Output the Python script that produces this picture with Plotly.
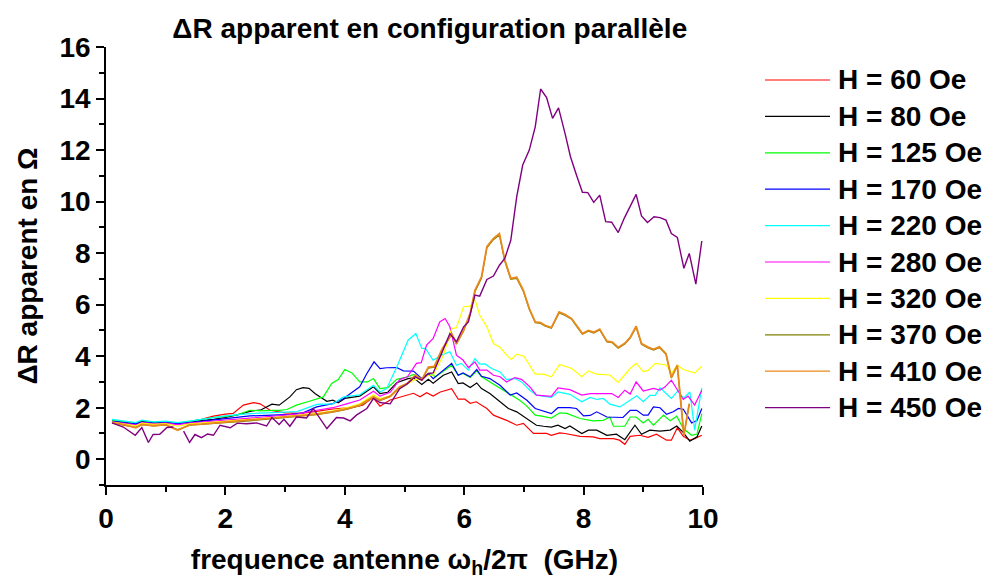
import plotly.graph_objects as go

# ---------------- data ----------------
x_base = [0.1, 0.3, 0.5, 0.6, 0.8, 1.0, 1.2, 1.4, 1.6, 1.8, 2.0]

x_60 = x_base + [2.13, 2.3, 2.47, 2.58, 2.75, 3.0, 3.25, 3.5, 3.8, 4.1, 4.3, 4.47, 4.59, 4.76, 4.87,
                 5.04, 5.15, 5.26, 5.37, 5.48, 5.6, 5.79, 5.9, 6.01, 6.1, 6.2, 6.38, 6.49, 6.71, 6.88,
                 6.99, 7.16, 7.38, 7.46, 7.6, 7.69, 7.94, 8.16, 8.27, 8.5, 8.6, 8.69, 8.78, 8.94, 9.08,
                 9.22, 9.39, 9.47, 9.57, 9.67, 9.78, 9.86, 9.98]
y_60 = [1.45, 1.42, 1.36, 1.44, 1.40, 1.42, 1.40, 1.45, 1.55, 1.67, 1.75,
        1.78, 2.1, 2.2, 2.15, 1.9, 1.8, 1.78, 1.85, 1.95, 2.0, 2.1, 2.4, 2.06, 2.3, 2.38,
        2.49, 2.56, 2.42, 2.58, 2.45, 2.61, 2.74, 2.33, 2.33, 2.17, 2.23, 1.97, 1.71, 1.51, 1.32,
        1.39, 1.0, 1.0, 0.93, 1.02, 1.0, 0.89, 0.87, 0.8, 0.8, 0.74, 0.58, 0.89, 0.93, 0.85,
        0.97, 0.74, 0.74, 1.22, 0.89, 0.74, 0.8, 0.93]

x_80 = x_base + [2.2, 2.41, 2.6, 2.78, 2.9, 3.08, 3.19, 3.3, 3.4, 3.5, 3.6, 3.7, 3.8, 3.89, 4.0,
                 4.25, 4.48, 4.59, 4.72, 4.87, 5.06, 5.15, 5.29, 5.4, 5.48, 5.65, 5.79, 5.9, 5.98, 6.1,
                 6.21, 6.29, 6.43, 6.6, 6.74, 6.88, 7.05, 7.21, 7.33, 7.46, 7.57, 7.69, 7.77, 7.97, 8.08,
                 8.22, 8.39, 8.55, 8.69, 8.86, 8.97, 9.11, 9.28, 9.45, 9.56, 9.66, 9.78, 9.9, 9.98]
y_80 = [1.48, 1.44, 1.35, 1.47, 1.42, 1.44, 1.38, 1.45, 1.50, 1.55, 1.62,
        1.72, 1.86, 1.92, 2.14, 2.1, 2.42, 2.7, 2.78, 2.75, 2.55, 2.4, 2.25, 2.29, 2.19, 2.36,
        2.45, 2.81, 2.55, 2.6, 2.97, 3.13, 3.16, 2.9, 3.1, 2.95, 3.26, 3.39, 2.94, 2.96, 2.78,
        2.96, 2.74, 2.55, 2.23, 1.97, 1.84, 1.58, 1.32, 1.28, 1.25, 1.32, 1.19, 1.29, 1.0, 1.13,
        1.13, 0.93, 0.97, 0.76, 1.32, 0.97, 1.13, 1.09, 1.13, 1.29, 1.06, 0.7, 0.87, 1.29]

x_125 = x_base + [2.2, 2.41, 2.6, 2.8, 2.91, 3.03, 3.19, 3.42, 3.64, 3.78, 3.89, 4.0, 4.12, 4.25, 4.38,
                  4.48, 4.59, 4.72, 4.87, 5.06, 5.15, 5.29, 5.43, 5.52, 5.79, 5.9, 5.98, 6.1, 6.21, 6.29,
                  6.43, 6.6, 6.77, 6.93, 7.05, 7.19, 7.3, 7.46, 7.6, 7.72, 7.94, 8.16, 8.33, 8.44, 8.5,
                  8.69, 8.78, 8.88, 9.0, 9.08, 9.17, 9.34, 9.45, 9.56, 9.67, 9.81, 9.9, 9.98]
y_125 = [1.52, 1.47, 1.40, 1.50, 1.44, 1.46, 1.40, 1.47, 1.55, 1.62, 1.66,
         1.72, 1.9, 1.88, 1.9, 1.9, 1.93, 2.1, 2.26, 2.42, 2.94, 3.09, 3.48, 3.35, 3.0, 3.0,
         3.13, 2.74, 2.78, 3.1, 3.2, 3.29, 3.13, 3.33, 3.2, 3.65, 3.26, 3.33, 3.17, 3.43, 3.2,
         3.0, 2.74, 2.49, 2.29, 2.06, 1.71, 1.67, 1.6, 1.8, 1.78, 1.58, 1.49, 1.51, 1.64, 1.28,
         1.28, 1.64, 1.64, 1.41, 1.55, 1.32, 1.71, 1.49, 1.67, 1.19, 0.93, 0.98, 1.77]

x_170 = x_base + [2.41, 2.8, 3.1, 3.3, 3.53, 3.8, 3.98, 4.25, 4.37, 4.49, 4.59, 4.7, 4.87, 4.98, 5.15,
                  5.29, 5.4, 5.48, 5.65, 5.79, 5.9, 5.98, 6.1, 6.21, 6.29, 6.43, 6.6, 6.77, 6.88, 7.05,
                  7.19, 7.33, 7.46, 7.57, 7.77, 7.88, 8.0, 8.11, 8.22, 8.39, 8.55, 8.66, 8.78, 8.89, 9.0,
                  9.08, 9.17, 9.28, 9.39, 9.5, 9.59, 9.67, 9.81, 9.9, 9.98]
y_170 = [1.47, 1.43, 1.37, 1.45, 1.40, 1.42, 1.38, 1.42, 1.48, 1.53, 1.58,
         1.68, 1.72, 1.74, 1.8, 2.03, 2.16, 2.36, 2.81, 3.33, 3.78, 3.52, 3.55, 3.56, 3.43, 3.42,
         3.13, 3.33, 3.13, 3.46, 3.72, 3.26, 3.35, 3.2, 3.48, 3.22, 3.13, 2.87, 2.49, 2.57, 2.29,
         1.97, 1.88, 1.77, 2.0, 2.0, 1.97, 1.68, 1.7, 1.84, 1.64, 1.62, 1.62, 1.9, 1.9, 1.71,
         1.71, 2.03, 2.0, 1.74, 1.84, 1.97, 1.94, 1.41, 1.5, 1.97]

x_220 = x_base + [2.41, 2.8, 3.2, 3.53, 3.8, 3.98, 4.25, 4.48, 4.59, 4.7, 4.87, 5.06, 5.19, 5.29, 5.35,
                  5.48, 5.62, 5.76, 5.87, 5.95, 6.07, 6.18, 6.26, 6.35, 6.46, 6.6, 6.71, 6.85, 6.96, 7.1,
                  7.21, 7.46, 7.57, 7.77, 7.97, 8.11, 8.22, 8.33, 8.44, 8.61, 8.72, 8.89, 9.0, 9.11, 9.2,
                  9.28, 9.36, 9.47, 9.59, 9.67, 9.78, 9.86, 9.98]
y_220 = [1.55, 1.48, 1.42, 1.52, 1.45, 1.48, 1.42, 1.48, 1.55, 1.62, 1.68,
         1.77, 1.8, 1.85, 2.13, 2.15, 2.42, 2.5, 2.87, 2.61, 2.74, 3.58, 4.62, 4.88, 4.3, 4.3,
         3.84, 4.04, 4.17, 3.65, 3.72, 3.46, 3.91, 3.69, 3.7, 3.52, 3.39, 3.09, 3.13, 3.0, 2.68,
         2.49, 2.4, 2.61, 2.52, 2.23, 2.4, 2.32, 2.36, 2.14, 2.03, 2.2, 2.46, 2.23, 2.48, 2.48,
         2.78, 2.6, 2.36, 2.68, 2.36, 2.61, 1.13, 2.77]

x_280 = x_base + [2.41, 2.8, 3.2, 3.53, 3.8, 4.03, 4.25, 4.48, 4.59, 4.76, 4.92, 5.05, 5.2, 5.28, 5.37,
                  5.48, 5.59, 5.68, 5.76, 5.87, 5.98, 6.07, 6.18, 6.26, 6.38, 6.49, 6.6, 6.71, 6.85, 6.96,
                  7.1, 7.21, 7.46, 7.57, 7.77, 7.97, 8.11, 8.33, 8.47, 8.58, 8.69, 8.78, 8.88, 9.0, 9.17,
                  9.28, 9.36, 9.47, 9.59, 9.67, 9.75, 9.86, 9.98]
y_280 = [1.45, 1.40, 1.33, 1.42, 1.37, 1.40, 1.34, 1.40, 1.44, 1.48, 1.53,
         1.6, 1.68, 1.75, 1.9, 2.0, 2.15, 2.3, 2.64, 2.45, 2.6, 3.09, 3.2, 3.72, 3.75, 4.43,
         4.69, 5.33, 5.46, 5.14, 4.04, 3.85, 3.56, 3.78, 3.46, 3.46, 3.26, 3.2, 3.0, 3.17, 3.1,
         2.81, 2.49, 2.44, 2.77, 2.7, 2.49, 2.55, 2.55, 2.55, 2.4, 2.68, 2.53, 3.0, 2.65, 2.75,
         2.68, 2.8, 3.07, 2.65, 2.32, 2.45, 2.1, 2.68]

x_320 = x_base + [2.41, 2.8, 3.2, 3.53, 3.8, 4.03, 4.25, 4.48, 4.59, 4.76, 4.92, 5.15, 5.29, 5.4, 5.48,
                  5.65, 5.79, 5.87, 5.99, 6.1, 6.18, 6.26, 6.38, 6.49, 6.6, 6.71, 6.79, 6.88, 7.0, 7.1,
                  7.19, 7.33, 7.46, 7.6, 7.8, 7.97, 8.08, 8.22, 8.44, 8.58, 8.78, 8.88, 9.0, 9.08, 9.2,
                  9.38, 9.47, 9.57, 9.67, 9.86, 9.98]
y_320 = [1.44, 1.38, 1.30, 1.40, 1.35, 1.38, 1.28, 1.37, 1.40, 1.44, 1.48,
         1.55, 1.62, 1.7, 1.78, 1.88, 2.0, 2.15, 2.5, 2.35, 2.45, 2.74, 3.07, 3.13, 3.26, 3.26,
         4.04, 5.07, 5.1, 5.92, 5.94, 6.2, 5.59, 5.14, 4.49, 4.35, 4.04, 3.87, 4.08, 4.0, 3.65,
         3.3, 3.3, 3.2, 3.68, 3.52, 3.2, 3.43, 3.3, 3.27, 2.98, 3.52, 3.72, 3.4, 3.45, 3.72,
         3.66, 3.33, 3.65, 3.48, 3.35, 3.61]

x_410 = x_base + [2.41, 2.8, 3.2, 3.53, 3.8, 4.03, 4.25, 4.48, 4.59, 4.76, 4.92, 5.05, 5.18, 5.29, 5.4,
                  5.5, 5.62, 5.79, 5.87, 5.99, 6.1, 6.18, 6.29, 6.38, 6.49, 6.59, 6.68, 6.78, 6.88, 6.99,
                  7.09, 7.19, 7.28, 7.35, 7.46, 7.59, 7.69, 7.8, 7.88, 7.98, 8.08, 8.17, 8.27, 8.39, 8.48,
                  8.58, 8.69, 8.78, 8.88, 8.97, 9.07, 9.17, 9.27, 9.38, 9.47, 9.57, 9.68, 9.77]
y_410 = [1.42, 1.34, 1.22, 1.35, 1.30, 1.34, 1.12, 1.33, 1.36, 1.40, 1.44,
         1.5, 1.6, 1.68, 1.75, 1.85, 1.95, 2.1, 2.42, 2.3, 2.45, 2.81, 2.95, 3.26, 3.09, 3.58,
         3.6, 4.23, 4.88, 4.49, 5.01, 5.66, 6.56, 7.08, 8.25, 8.57, 8.76, 7.73, 7.02, 7.06, 6.56,
         5.85, 5.33, 5.3, 5.2, 5.11, 5.72, 5.62, 5.46, 5.2, 4.88, 5.0, 4.93, 5.05, 4.58, 4.55,
         4.34, 4.5, 4.73, 5.16, 4.49, 4.36, 4.27, 4.36, 4.1, 3.17, 3.65, 0.93, 2.16]

x_370 = list(x_410)
y_370 = [1.40, 1.33, 1.24, 1.34, 1.29, 1.33, 1.15, 1.32, 1.35, 1.39, 1.43,
         1.49, 1.58, 1.66, 1.73, 1.83, 1.93, 2.08, 2.4, 2.28, 2.43, 2.78, 2.92, 3.22, 3.06, 3.54,
         3.57, 4.2, 4.84, 4.46, 4.98, 5.62, 6.5, 7.02, 8.2, 8.52, 8.7, 7.68, 6.98, 7.02, 6.52,
         5.82, 5.3, 5.27, 5.17, 5.08, 5.68, 5.58, 5.43, 5.17, 4.85, 4.97, 4.9, 5.02, 4.55, 4.52,
         4.31, 4.47, 4.7, 5.12, 4.46, 4.33, 4.24, 4.33, 4.07, 3.15, 3.62, 0.95, 2.13]

x_450 = [0.1, 0.29, 0.49, 0.6, 0.71, 0.79, 0.9, 1.02, 1.13, 1.2, 1.3, 1.4, 1.49, 1.6, 1.7,
         1.8, 1.91, 2.08, 2.2, 2.35, 2.52, 2.69, 2.78, 2.9, 2.98, 3.08, 3.19, 3.36, 3.47, 3.7,
         3.86, 3.98, 4.09, 4.2, 4.37, 4.48, 4.59, 4.76, 4.92, 5.03, 5.18, 5.29, 5.4, 5.48, 5.62,
         5.76, 5.87, 5.99, 6.07, 6.18, 6.26, 6.38, 6.49, 6.59, 6.68, 6.78, 6.88, 6.98, 7.09, 7.19,
         7.28, 7.38, 7.48, 7.58, 7.69, 7.78, 7.88, 7.98, 8.07, 8.17, 8.27, 8.37, 8.47, 8.58, 8.68,
         8.78, 8.88, 8.97, 9.07, 9.18, 9.28, 9.38, 9.47, 9.57, 9.68, 9.77, 9.88, 9.98]
y_450 = [1.41, 1.25, 0.93, 1.23, 0.65, 0.96, 0.97, 1.23, 1.25, None, 1.09, 0.65, 0.96, 0.84, 0.98,
         0.93, 1.32, 1.22, 1.4, 1.38, 1.41, 1.29, 1.62, 1.35, 1.55, 1.28, 1.64, 1.6, 1.97, 1.19,
         1.62, 1.6, 1.49, 1.72, 1.97, 2.36, 2.2, 2.15, 2.74, 2.9, 3.2, 3.07, 3.33, 3.35, 4.1,
         4.88, 4.56, 5.14, 5.33, 6.37, 6.33, 6.98, 7.11, 7.53, 7.79, 8.5, 10.19, 11.42, 12.0, 12.9,
         14.37, 14.04, 13.23, 13.64, 12.64, 11.74, 11.03, 10.36, 10.35, 9.97, 10.25, 9.22, 9.2, 8.8, 9.35,
         9.8, 10.28, 9.44, 9.19, 9.41, 9.38, 9.28, 8.76, 8.61, 7.41, 7.99, 6.8, 8.47]

series_names = ["H = 60 Oe", "H = 80 Oe", "H = 125 Oe", "H = 170 Oe", "H = 220 Oe",
                "H = 280 Oe", "H = 320 Oe", "H = 370 Oe", "H = 410 Oe", "H = 450 Oe"]
series_x = [x_60, x_80, x_125, x_170, x_220, x_280, x_320, x_370, x_410, x_450]
series_y = [y_60, y_80, y_125, y_170, y_220, y_280, y_320, y_370, y_410, y_450]
series_colors = ["#ff0000", "#000000", "#00ff00", "#0000ff", "#00ffff",
                 "#ff00ff", "#ffff00", "#808000", "#e8891c", "#800080"]
series_widths = [1.2, 1.2, 1.2, 1.2, 1.2, 1.2, 1.2, 1.2, 1.8, 1.4]

x_ticks = [0, 2, 4, 6, 8, 10]
y_ticks = [0, 2, 4, 6, 8, 10, 12, 14, 16]

FONT = "Liberation Sans, Arial, Helvetica, sans-serif"

# figure / plot-area geometry (pixels)
W, H = 988, 579
ML, MR, MT, MB = 106, 285, 47, 94
PW, PH = W - ML - MR, H - MT - MB

fig = go.Figure()
for name, xs, ys, col, w in zip(series_names, series_x, series_y, series_colors, series_widths):
    fig.add_trace(go.Scatter(x=xs, y=ys, mode="lines", name=name, showlegend=False,
                             line=dict(color=col, width=w), connectgaps=False))

# legend drawn as a key outside the plot area (line sample + label per series)
LEG_LINE_X0, LEG_LINE_X1, LEG_TEXT_X = 765, 830, 836
LEG_Y0, LEG_DY = 80, 36.4
for i, (name, col) in enumerate(zip(series_names, series_colors)):
    py = LEG_Y0 + i * LEG_DY
    yp = (H - MB - py) / PH
    fig.add_shape(type="line", xref="paper", yref="paper",
                  x0=(LEG_LINE_X0 - ML) / PW, x1=(LEG_LINE_X1 - ML) / PW, y0=yp, y1=yp,
                  line=dict(color=col, width=1.2))
    fig.add_annotation(xref="paper", yref="paper", x=(LEG_TEXT_X - ML) / PW, y=yp,
                       xanchor="left", yanchor="middle", showarrow=False, text=name,
                       font=dict(family=FONT, size=28, weight="bold", color="black"))

fig.update_layout(
    width=W, height=H,
    paper_bgcolor="white", plot_bgcolor="white",
    margin=dict(l=ML, r=MR, t=MT, b=MB, autoexpand=False),
    font=dict(family=FONT, size=28, color="black", weight="bold"),
    title=dict(text="\u0394R apparent en configuration parallèle",
               x=0.435, xanchor="center", xref="container",
               y=0.952, yanchor="middle", yref="container",
               font=dict(family=FONT, size=28, weight="bold", color="black")),
    showlegend=False,
)

fig.update_xaxes(
    range=[0, 10], tickvals=x_ticks, ticktext=[str(v) for v in x_ticks],
    showline=True, linecolor="black", linewidth=1.5, mirror=False,
    ticks="outside", ticklen=8, tickwidth=1.5, tickcolor="black",
    minor=dict(dtick=1, tick0=0, ticks="outside", ticklen=5, tickwidth=1.5, tickcolor="black"),
    showgrid=False, zeroline=False, automargin=False,
    tickfont=dict(family=FONT, size=28, weight="bold"),
    ticklabelstandoff=0,
    title=dict(text="frequence antenne \u03c9<sub>h</sub>/2\u03c0\u00a0 (GHz)",
               font=dict(family=FONT, size=28, weight="bold"), standoff=18),
)
fig.update_yaxes(
    range=[-1, 16], tickvals=y_ticks, ticktext=[str(v) for v in y_ticks],
    showline=True, linecolor="black", linewidth=1.5, mirror=False,
    ticks="outside", ticklen=8, tickwidth=1.5, tickcolor="black",
    minor=dict(dtick=1, tick0=0, ticks="outside", ticklen=5, tickwidth=1.5, tickcolor="black"),
    showgrid=False, zeroline=False, automargin=False,
    tickfont=dict(family=FONT, size=28, weight="bold"),
    title=dict(text="\u0394R apparent en \u03a9",
               font=dict(family=FONT, size=28, weight="bold"), standoff=14),
)

# remove the browser's default 8px body margin so the figure fills the window exactly
fig.write_html("out.html", config={"displayModeBar": False},
               post_script="document.body.style.margin='0px';document.body.style.overflow='hidden';")
